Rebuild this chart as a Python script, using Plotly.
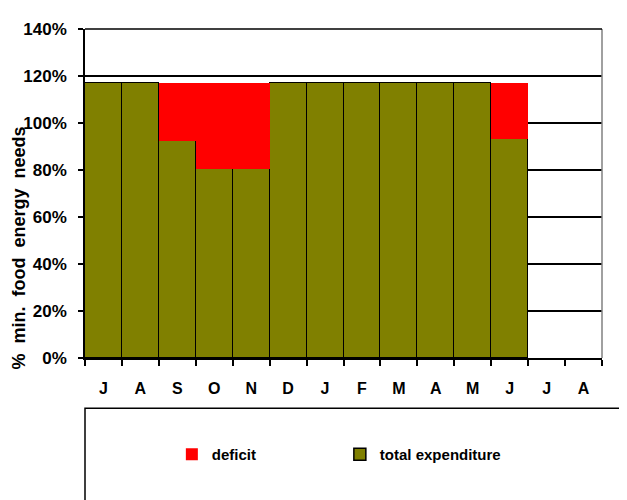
import plotly.graph_objects as go

months = ["J", "A", "S", "O", "N", "D", "J", "F", "M", "A", "M", "J", "J", "A"]
total_expenditure = [117, 117, 92.5, 80.5, 80.5, 117, 117, 117, 117, 117, 117, 93, None, None]
deficit = [0, 0, 24.5, 36.5, 36.5, 0, 0, 0, 0, 0, 0, 24, None, None]
y_ticks = [0, 20, 40, 60, 80, 100, 120, 140]

x = list(range(len(months)))
FONT = "Liberation Sans, Arial, sans-serif"

fig = go.Figure()
fig.add_trace(go.Bar(
    x=x, y=total_expenditure, name="total expenditure",
    marker=dict(color="#808000", line=dict(color="#000000", width=1.5)),
    legendrank=2,
))
fig.add_trace(go.Bar(
    x=x, y=deficit, name="deficit",
    marker=dict(color="#FF0000", line=dict(width=0)),
    legendrank=1,
))

fig.update_layout(
    barmode="stack", bargap=0,
    width=619, height=492,
    margin=dict(l=77, r=25, t=16, b=142),
    plot_bgcolor="white", paper_bgcolor="white",
    font=dict(family=FONT, color="black"),
    showlegend=True,
    legend=dict(
        orientation="h", x=0.168, xanchor="left", y=-0.293, yanchor="middle",
        font=dict(family=FONT, size=15, color="black", weight="bold"),
        entrywidth=123, entrywidthmode="pixels", itemwidth=30,
        traceorder="normal",
    ),
    xaxis=dict(
        range=[-0.5, 13.5], tickmode="array", tickvals=x, ticktext=months,
        ticks="", showgrid=False, zeroline=False,
        showline=True, linecolor="black", linewidth=1.5,
        tickfont=dict(family=FONT, size=16, color="black", weight="bold"),
        ticklabelstandoff=15,
        minor=dict(tickmode="array", tickvals=[i - 0.5 for i in range(len(months) + 1)],
                   ticks="outside", ticklen=6, tickcolor="black", tickwidth=1.5,
                   showgrid=False),
    ),
    yaxis=dict(
        range=[0, 140], tickmode="array", tickvals=y_ticks,
        ticktext=[f"{v}%" for v in y_ticks],
        ticks="outside", ticklen=5, tickcolor="black", tickwidth=1.5,
        showgrid=True, gridcolor="black", gridwidth=1.5,
        zeroline=False, showline=True, linecolor="black", linewidth=1.5,
        tickfont=dict(family=FONT, size=17, color="black", weight="bold"),
        ticklabelstandoff=8,
    ),
    shapes=[
        dict(type="line", xref="paper", yref="paper", x0=1, x1=1, y0=0, y1=1,
             line=dict(color="#808080", width=1.5)),
        dict(type="line", xref="paper", yref="paper", x0=0, x1=1, y0=1, y1=1,
             line=dict(color="black", width=1.5)),
        dict(type="rect", xref="paper", yref="paper", x0=0, x1=1.2, y0=-0.153, y1=-0.6,
             line=dict(color="black", width=1.5), fillcolor="rgba(0,0,0,0)", layer="below"),
    ],
    annotations=[
        dict(text="%\u00a0 min.\u00a0 food\u00a0 energy\u00a0 needs", xref="paper", yref="paper",
             x=-0.128, y=0.335, xanchor="center", yanchor="middle", textangle=-90,
             showarrow=False, font=dict(family=FONT, size=18, color="black", weight="bold")),
    ],
)

fig.write_html("out.html")
